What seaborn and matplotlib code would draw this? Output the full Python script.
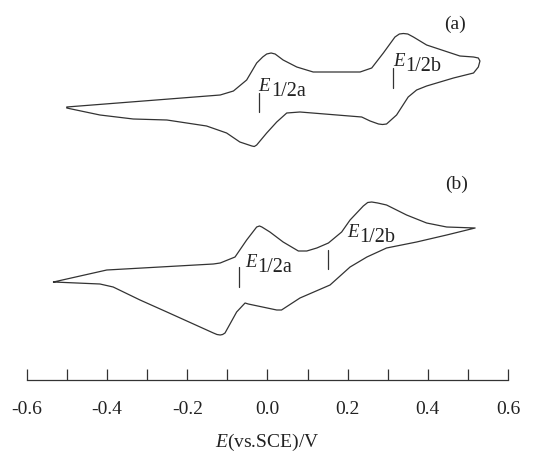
#Imports
import numpy as np
import pandas as pd
import seaborn as sns
import matplotlib.pyplot as plt

#Voltammogramas ciclicos (a) y (b): potencial E (V vs SCE) y corriente (unidades arbitrarias)
E_a = [-0.501, -0.118, -0.085, -0.052, -0.027, -0.012, -0.002, 0.009, 0.019, 0.039, 0.073, 0.114, 0.231, 0.260,
       0.289, 0.318, 0.329, 0.339, 0.350, 0.364, 0.397, 0.480, 0.514, 0.526, 0.530, 0.526, 0.514, 0.464, 0.397, 0.372,
       0.351, 0.322, 0.297, 0.287, 0.277, 0.256, 0.235, 0.081, 0.048, 0.023, -0.002, -0.027, -0.033, -0.039,
       -0.069, -0.102, -0.152, -0.251, -0.335, -0.418, -0.501]
I_a = [0.0, 1.2, 1.6, 2.7, 4.4, 5.0, 5.3, 5.4, 5.3, 4.7, 4.0, 3.5, 3.5, 3.9,
       5.4, 7.0, 7.3, 7.35, 7.3, 7.0, 6.2, 5.1, 5.0, 4.9, 4.6, 4.0, 3.4, 2.9, 2.1, 1.7,
       1.0, -0.8, -1.7, -1.75, -1.7, -1.4, -1.0, -0.5, -0.6, -1.5, -2.6, -3.8, -3.95, -3.9,
       -3.5, -2.6, -1.9, -1.3, -1.2, -0.8, -0.1]
E_b = [-0.534, -0.401, -0.135, -0.118, -0.081, -0.052, -0.027, -0.020, -0.014, 0.006, 0.039, 0.077, 0.098,
       0.123, 0.152, 0.185, 0.206, 0.239, 0.250, 0.260, 0.275, 0.297, 0.347, 0.397, 0.447, 0.518,
       0.447, 0.372, 0.297, 0.248, 0.206, 0.156, 0.081, 0.035, 0.023, -0.048, -0.056, -0.077,
       -0.106, -0.112, -0.118, -0.126, -0.135, -0.251, -0.318, -0.385, -0.418, -0.534]
I_b = [0.0, 1.2, 1.8, 1.9, 2.5, 4.2, 5.5, 5.6, 5.5, 5.0, 4.0, 3.1, 3.1,
       3.4, 3.9, 5.0, 6.2, 7.6, 7.95, 8.0, 7.9, 7.7, 6.7, 5.9, 5.5, 5.4,
       4.7, 4.0, 3.4, 2.5, 1.5, -0.3, -1.6, -2.8, -2.8, -2.2, -2.1, -3.0,
       -5.1, -5.25, -5.3, -5.25, -5.1, -3.0, -1.8, -0.5, -0.2, 0.0]

#E1/2 de cada onda
E_half_a = [-0.021, 0.312]
E_half_b = [-0.072, 0.150]
off_a = 27.3   #desplazamiento vertical de cada curva
off_b = 9.8
col = '#333333'

sns.set_style("white")
plt.rcParams['font.family'] = ['Liberation Serif', 'DejaVu Serif']
plt.rcParams['mathtext.fontset'] = 'custom'
plt.rcParams['mathtext.rm'] = 'Liberation Serif'
plt.rcParams['mathtext.it'] = 'Liberation Serif:italic'

fig = plt.figure(figsize=(5.34, 4.54), dpi=100)
ax = fig.add_axes([27/534, 74/454, 481/534, 380/454])

df_a = pd.DataFrame({'E': E_a, 'I': np.array(I_a) + off_a})
df_b = pd.DataFrame({'E': E_b, 'I': np.array(I_b) + off_b})
sns.lineplot(x='E', y='I', data=df_a, sort=False, estimator=None, color=col, lw=0.9, ax=ax)
sns.lineplot(x='E', y='I', data=df_b, sort=False, estimator=None, color=col, lw=0.9, ax=ax)

#marcas de E1/2 y etiquetas
def marca(x, y0, y1, tx, ty, sub):
    ax.plot([x, x], [y0, y1], color=col, lw=0.9)
    ax.text(tx, ty, 'E', fontsize=13.5, style='italic', color='#222222', va='baseline')
    ax.annotate(sub, xy=(tx, ty), xytext=(9.0, -3.6), textcoords='offset points',
                fontsize=14.5, color='#222222', va='baseline')

marca(E_half_a[0], off_a + 1.4, off_a - 0.5, -0.023, off_a + 1.6, '1/2a')
marca(E_half_a[1], off_a + 3.9, off_a + 1.9, 0.313, off_a + 4.1, '1/2b')
marca(E_half_b[0], off_b + 1.5, off_b - 0.5, -0.056, off_b + 1.5, '1/2a')
marca(E_half_b[1], off_b + 3.2, off_b + 1.3, 0.198, off_b + 4.5, '1/2b')
ax.text(0.468, 35.6, '(a)', fontsize=14, ha='center', va='center', color='#222222')
ax.text(0.472, 19.6, '(b)', fontsize=14, ha='center', va='center', color='#222222')

ax.set_xlim(-0.6, 0.6)
ax.set_ylim(0, 38)
ax.set_xticks(np.arange(-0.6, 0.61, 0.1))
ax.set_xticklabels(['-0.6', '', '-0.4', '', '-0.2', '', '0.0', '', '0.2', '', '0.4', '', '0.6'])
ax.set_yticks([])
ax.tick_params(axis='x', bottom=True, direction='in', length=8, width=0.9, color=col,
               labelsize=14, pad=15, labelcolor='#222222')
for s in ['top', 'left', 'right']:
    ax.spines[s].set_visible(False)
ax.spines['bottom'].set_color(col)
ax.spines['bottom'].set_linewidth(0.9)
ax.set_xlabel(r'$E$(vs.SCE)/V', fontsize=14, labelpad=10, color='#222222')
ax.set_ylabel('')
ax.patch.set_alpha(0)
plt.savefig("out.png", dpi=100)
